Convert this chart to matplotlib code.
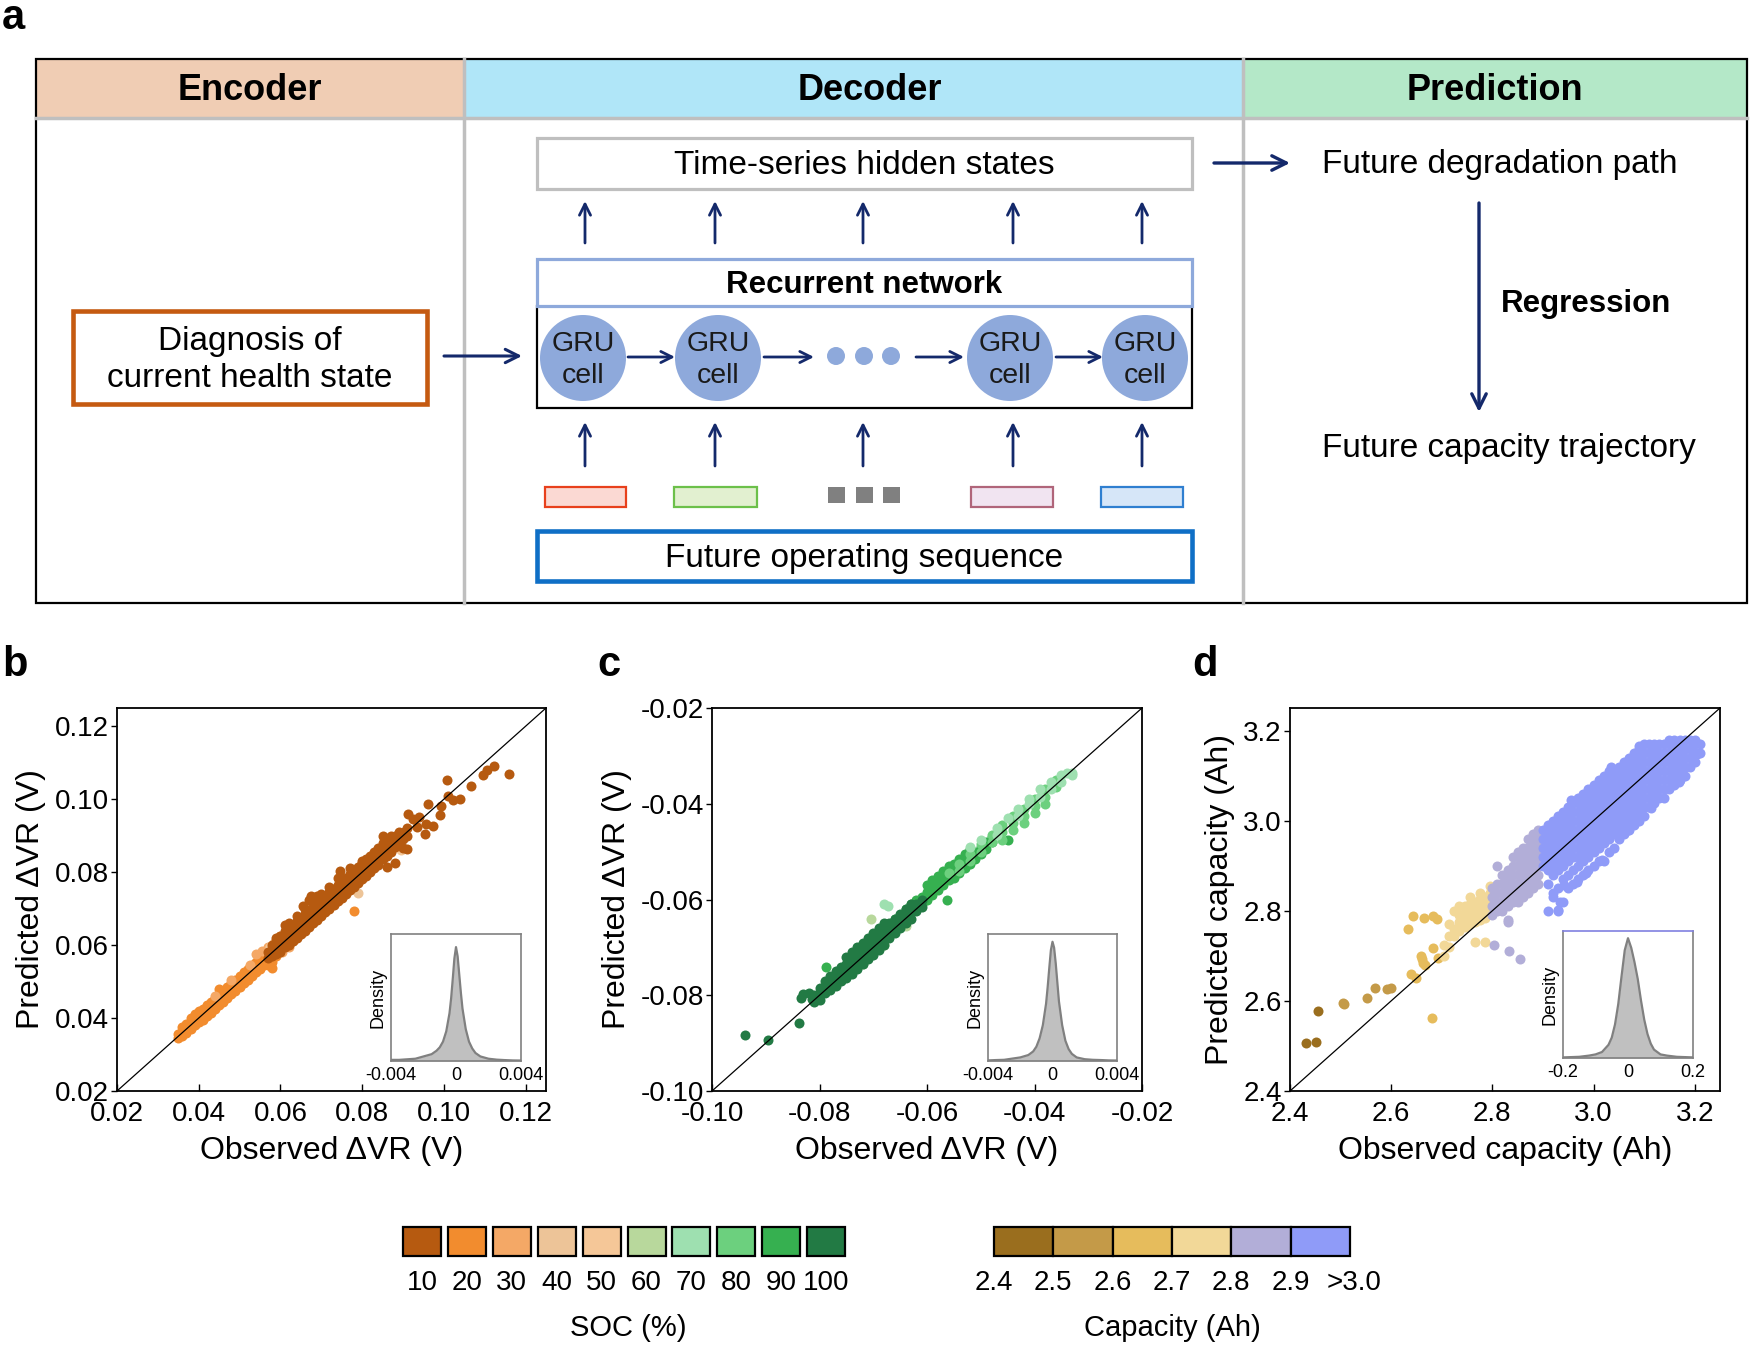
import matplotlib
matplotlib.use('Agg')
import matplotlib.pyplot as plt
from matplotlib.patches import Rectangle, Circle

plt.rcParams['font.family'] = ['Liberation Sans', 'DejaVu Sans']

W, H = 1750, 1346

# ---- colour keys ----
soc_labels = ['10', '20', '30', '40', '50', '60', '70', '80', '90', '100']
soc_colors = ['#B65A10', '#F28C2E', '#F4A866', '#EDC498', '#F5C798',
              '#B8D89C', '#9EE0B0', '#6CD07E', '#36B050', '#227A44']
cap_labels = ['2.4', '2.5', '2.6', '2.7', '2.8', '2.9', '>3.0']
cap_colors = ['#9A6E1E', '#C49A48', '#E6BC5C', '#F2D898', '#B2AED8', '#8F9BF8']

# ---- panel b: SOC 10 (columns of observed x, predicted ys) ----
b10_cols = [0.057, 0.058, 0.059, 0.060, 0.061, 0.062, 0.063, 0.064, 0.065, 0.066,
            0.067, 0.068, 0.069, 0.070, 0.071, 0.072, 0.073, 0.074, 0.075, 0.076,
            0.077, 0.078, 0.079, 0.080, 0.081, 0.082, 0.083, 0.084, 0.085, 0.086,
            0.087, 0.088, 0.089, 0.090, 0.091]
b10_rows = [[0.0565, 0.058], [0.057, 0.0585, 0.060], [0.0575, 0.059, 0.0605, 0.062],
            [0.058, 0.0595, 0.061, 0.0625], [0.0595, 0.061, 0.0625, 0.064],
            [0.060, 0.0615, 0.063, 0.0645, 0.066], [0.061, 0.0625, 0.064, 0.0655],
            [0.062, 0.0635, 0.065, 0.0665, 0.068], [0.063, 0.0645, 0.066, 0.0675],
            [0.064, 0.0655, 0.067, 0.0685, 0.070], [0.065, 0.0665, 0.068, 0.0695, 0.0725],
            [0.066, 0.0675, 0.069, 0.0705, 0.072], [0.067, 0.0685, 0.070, 0.0715, 0.0735],
            [0.068, 0.0695, 0.071, 0.0725, 0.074], [0.069, 0.0705, 0.072, 0.0735],
            [0.070, 0.0715, 0.073, 0.0745, 0.076], [0.071, 0.0725, 0.074, 0.0755],
            [0.072, 0.0735, 0.075, 0.0765, 0.0785], [0.073, 0.0745, 0.076, 0.0775],
            [0.074, 0.0755, 0.077, 0.0785], [0.075, 0.0765, 0.078, 0.0795, 0.081],
            [0.076, 0.0775, 0.079, 0.0805], [0.077, 0.0785, 0.080, 0.0815],
            [0.078, 0.0795, 0.081, 0.0825, 0.083], [0.079, 0.0805, 0.082, 0.0835],
            [0.080, 0.0815, 0.083, 0.0845], [0.081, 0.0825, 0.084, 0.0855],
            [0.082, 0.0835, 0.085, 0.0865], [0.0835, 0.085, 0.0865, 0.088],
            [0.0845, 0.086, 0.0875, 0.089, 0.0815], [0.0855, 0.087, 0.0885, 0.090],
            [0.087, 0.0885, 0.090, 0.0825], [0.088, 0.0895, 0.091], [0.089, 0.0905, 0.0865],
            [0.090, 0.092]]
b10_out_x = [0.116, 0.1122, 0.1095, 0.1105, 0.1066, 0.104, 0.1023, 0.1008, 0.101, 0.0993,
             0.099, 0.0973, 0.0957, 0.0961, 0.094, 0.0955, 0.0912, 0.091, 0.0903, 0.0745,
             0.0674, 0.0656, 0.0611, 0.0855, 0.085, 0.0925, 0.0935]
b10_out_y = [0.107, 0.109, 0.1065, 0.108, 0.1037, 0.100, 0.0997, 0.1053, 0.101, 0.098,
             0.0958, 0.0927, 0.0933, 0.0988, 0.095, 0.0905, 0.0959, 0.0864, 0.0911, 0.0804,
             0.0735, 0.0707, 0.0655, 0.0872, 0.090, 0.0945, 0.0925]

# panel b: SOC 20
b20_cols = [0.035, 0.036, 0.037, 0.038, 0.039, 0.040, 0.041, 0.042, 0.043, 0.044,
            0.045, 0.046, 0.047, 0.048, 0.049, 0.050, 0.051, 0.052, 0.053, 0.054,
            0.055, 0.056, 0.057, 0.058, 0.059]
b20_rows = [[0.0345, 0.0355], [0.035, 0.0365, 0.0375], [0.036, 0.0375, 0.0385],
            [0.037, 0.0385, 0.040], [0.038, 0.0395, 0.041], [0.039, 0.0405, 0.042],
            [0.0395, 0.041, 0.0425], [0.0405, 0.042, 0.0435], [0.0415, 0.043, 0.0445],
            [0.0425, 0.044, 0.0455], [0.0435, 0.045, 0.0465, 0.048], [0.0445, 0.046, 0.0475],
            [0.0455, 0.047, 0.0485], [0.0465, 0.048, 0.0495], [0.0475, 0.049, 0.0505],
            [0.0485, 0.050, 0.0515], [0.0495, 0.051, 0.0525], [0.0505, 0.052, 0.0535],
            [0.0515, 0.053, 0.0545], [0.0525, 0.054, 0.0555], [0.0535, 0.055, 0.0565],
            [0.0545, 0.056, 0.0575], [0.0545, 0.0555, 0.057], [0.0555, 0.0565, 0.0537],
            [0.057, 0.0585]]
b20_out_x = [0.078]
b20_out_y = [0.0693]

# panel b: lighter SOC levels (few points)
b30_x = [0.0525, 0.054, 0.0555, 0.057, 0.0585, 0.060, 0.048, 0.044, 0.062, 0.0605]
b30_y = [0.0545, 0.0575, 0.0585, 0.0595, 0.0605, 0.0625, 0.0505, 0.046, 0.0595, 0.058]
b40_x = [0.0655, 0.079, 0.0775, 0.063]
b40_y = [0.0665, 0.0742, 0.0755, 0.061]
b50_x = [0.0895, 0.0575, 0.0705]
b50_y = [0.0862, 0.0595, 0.0695]

# ---- panel c ----
c100_cols = [-0.081, -0.080, -0.079, -0.078, -0.077, -0.076, -0.075, -0.074, -0.073,
             -0.072, -0.071, -0.070, -0.069, -0.068, -0.067, -0.066, -0.065, -0.064,
             -0.063, -0.062, -0.061]
c100_rows = [[-0.0815, -0.080], [-0.081, -0.0795, -0.0785], [-0.0795, -0.0785, -0.077],
             [-0.079, -0.0775, -0.076], [-0.078, -0.0765, -0.075], [-0.077, -0.0755, -0.074],
             [-0.0765, -0.075, -0.0735, -0.072], [-0.0755, -0.074, -0.0725, -0.071],
             [-0.0745, -0.073, -0.0715, -0.070], [-0.0735, -0.072, -0.0705, -0.069],
             [-0.0725, -0.071, -0.0695, -0.068], [-0.0715, -0.070, -0.0685, -0.067],
             [-0.0705, -0.069, -0.0675, -0.066], [-0.0695, -0.068, -0.0665, -0.065],
             [-0.068, -0.0665, -0.065], [-0.067, -0.0655, -0.064], [-0.066, -0.0645, -0.063],
             [-0.065, -0.0635, -0.062], [-0.064, -0.0625, -0.061], [-0.0625, -0.061],
             [-0.0615, -0.060]]
c100_out_x = [-0.0938, -0.0895, -0.0838, -0.0835, -0.0831, -0.0814, -0.082]
c100_out_y = [-0.0884, -0.0894, -0.0859, -0.0806, -0.0797, -0.0808, -0.0795]

c90_cols = [-0.068, -0.066, -0.064, -0.063, -0.062, -0.061, -0.060, -0.059, -0.058,
            -0.057, -0.056, -0.055, -0.054, -0.053, -0.052, -0.051, -0.050, -0.049, -0.048]
c90_rows = [[-0.0665], [-0.0655, -0.064], [-0.0635, -0.062], [-0.0625, -0.061],
            [-0.0615, -0.060], [-0.061, -0.0595], [-0.060, -0.0585, -0.057],
            [-0.059, -0.0575, -0.056], [-0.058, -0.0565, -0.055], [-0.057, -0.0555, -0.054],
            [-0.056, -0.0545, -0.053], [-0.0555, -0.054, -0.0525], [-0.0545, -0.053, -0.0515],
            [-0.0535, -0.052, -0.0505], [-0.0525, -0.051, -0.0495], [-0.0515, -0.050],
            [-0.0505, -0.049], [-0.0495, -0.048], [-0.048, -0.047]]
c90_out_x = [-0.0787, -0.0563, -0.0449]
c90_out_y = [-0.0742, -0.0601, -0.0476]

c80_cols = [-0.056, -0.054, -0.052, -0.050, -0.048, -0.046, -0.044, -0.042, -0.040,
            -0.038, -0.036]
c80_rows = [[-0.0545], [-0.0525, -0.054], [-0.0505, -0.052], [-0.0485, -0.050],
            [-0.0465, -0.048], [-0.0445, -0.046, -0.0475], [-0.0425, -0.044, -0.0455],
            [-0.041, -0.0425, -0.044], [-0.039, -0.0405, -0.042], [-0.037, -0.0385, -0.040],
            [-0.035, -0.0365]]

c70_cols = [-0.052, -0.050, -0.047, -0.045, -0.043, -0.041, -0.039, -0.037, -0.035,
            -0.034, -0.033]
c70_rows = [[-0.049], [-0.0475], [-0.045, -0.0465], [-0.043], [-0.041, -0.0425],
            [-0.039, -0.040], [-0.037, -0.0385], [-0.0355, -0.037], [-0.034, -0.0355],
            [-0.0335], [-0.0335, -0.034]]
c70_out_x = [-0.068, -0.0673]
c70_out_y = [-0.061, -0.0614]

c60_x = [-0.0705, -0.072, -0.068, -0.064, -0.0515]
c60_y = [-0.064, -0.0735, -0.0695, -0.0655, -0.0505]

# ---- panel d ----
d29_cols = [2.900, 2.910, 2.920, 2.930, 2.940, 2.950, 2.960, 2.970, 2.980, 2.990,
            3.000, 3.010, 3.020, 3.030, 3.040, 3.050, 3.060, 3.070, 3.080, 3.090,
            3.100, 3.110, 3.120, 3.130, 3.140, 3.150, 3.160, 3.170, 3.180, 3.190,
            3.200, 3.210]
d29_rows = [[2.90, 2.92, 2.94, 2.96, 2.98],
            [2.86, 2.89, 2.91, 2.93, 2.95, 2.97, 2.99],
            [2.83, 2.88, 2.90, 2.92, 2.94, 2.96, 2.98, 3.00],
            [2.80, 2.85, 2.89, 2.91, 2.93, 2.95, 2.97, 2.99, 3.01],
            [2.82, 2.87, 2.90, 2.92, 2.94, 2.96, 2.98, 3.00, 3.02],
            [2.85, 2.88, 2.91, 2.93, 2.95, 2.97, 2.99, 3.01, 3.03],
            [2.86, 2.89, 2.92, 2.94, 2.96, 2.98, 3.00, 3.02, 3.04],
            [2.87, 2.90, 2.92, 2.94, 2.96, 2.98, 3.00, 3.02, 3.04, 3.05],
            [2.88, 2.91, 2.93, 2.95, 2.97, 2.99, 3.01, 3.03, 3.05, 3.06],
            [2.89, 2.92, 2.94, 2.96, 2.98, 3.00, 3.02, 3.04, 3.06, 3.07],
            [2.90, 2.93, 2.95, 2.97, 2.99, 3.01, 3.03, 3.05, 3.07, 3.08],
            [2.91, 2.94, 2.96, 2.98, 3.00, 3.02, 3.04, 3.06, 3.08, 3.09],
            [2.91, 2.95, 2.97, 2.99, 3.01, 3.03, 3.05, 3.07, 3.09, 3.10],
            [2.93, 2.96, 2.98, 3.00, 3.02, 3.04, 3.06, 3.08, 3.10, 3.11],
            [2.94, 2.97, 2.99, 3.01, 3.03, 3.05, 3.07, 3.09, 3.11],
            [2.96, 2.98, 3.00, 3.02, 3.04, 3.06, 3.08, 3.10, 3.12],
            [2.97, 2.99, 3.01, 3.03, 3.05, 3.07, 3.09, 3.11, 3.13],
            [2.98, 3.00, 3.02, 3.04, 3.06, 3.08, 3.10, 3.12, 3.14],
            [2.99, 3.01, 3.03, 3.05, 3.07, 3.09, 3.11, 3.13, 3.15],
            [3.00, 3.02, 3.04, 3.06, 3.08, 3.10, 3.12, 3.14, 3.16],
            [3.01, 3.03, 3.05, 3.07, 3.09, 3.11, 3.13, 3.15, 3.17],
            [3.03, 3.05, 3.07, 3.09, 3.11, 3.13, 3.15, 3.17],
            [3.04, 3.06, 3.08, 3.10, 3.12, 3.14, 3.16, 3.17],
            [3.05, 3.07, 3.09, 3.11, 3.13, 3.15, 3.17],
            [3.05, 3.07, 3.09, 3.11, 3.13, 3.15, 3.17],
            [3.07, 3.09, 3.11, 3.13, 3.15, 3.17, 3.18],
            [3.08, 3.10, 3.12, 3.14, 3.16, 3.18],
            [3.09, 3.11, 3.13, 3.15, 3.17, 3.18],
            [3.10, 3.12, 3.14, 3.16, 3.18],
            [3.12, 3.14, 3.16, 3.18],
            [3.13, 3.15, 3.17, 3.18],
            [3.15, 3.17]]
d29_out_x = [2.91, 2.929, 2.934, 2.941, 2.967, 2.985, 3.017, 3.069, 3.113, 3.168,
             3.204, 2.92, 2.955, 3.035, 3.09]
d29_out_y = [2.80, 2.8025, 2.82, 2.857, 2.863, 2.883, 2.913, 2.98, 3.027, 3.085,
             3.149, 2.84, 3.045, 3.118, 3.165]

d28_cols = [2.800, 2.810, 2.820, 2.830, 2.840, 2.850, 2.860, 2.870, 2.880, 2.890]
d28_rows = [[2.79, 2.81, 2.83, 2.85], [2.80, 2.82, 2.84, 2.86, 2.90],
            [2.80, 2.82, 2.84, 2.86, 2.88], [2.78, 2.81, 2.83, 2.85, 2.87, 2.89],
            [2.82, 2.84, 2.86, 2.88, 2.90, 2.92], [2.82, 2.84, 2.86, 2.88, 2.90, 2.92, 2.93],
            [2.83, 2.85, 2.87, 2.89, 2.91, 2.93, 2.94], [2.84, 2.86, 2.88, 2.90, 2.92, 2.94, 2.96],
            [2.85, 2.87, 2.89, 2.91, 2.93, 2.95, 2.97], [2.86, 2.88, 2.90, 2.92, 2.94, 2.96, 2.98]]
d28_out_x = [2.804, 2.8336, 2.855, 2.83]
d28_out_y = [2.724, 2.711, 2.694, 2.775]

d27_cols = [2.705, 2.715, 2.725, 2.735, 2.745, 2.755, 2.765, 2.775, 2.785, 2.795]
d27_rows = [[2.70, 2.725], [2.72, 2.745, 2.77], [2.745, 2.76, 2.80], [2.755, 2.775, 2.79, 2.81],
            [2.765, 2.78, 2.795, 2.81], [2.77, 2.785, 2.80, 2.815, 2.83],
            [2.775, 2.79, 2.805, 2.82, 2.73], [2.78, 2.795, 2.81, 2.825, 2.84],
            [2.785, 2.80, 2.815, 2.83, 2.73], [2.795, 2.81, 2.825, 2.84, 2.855]]

d26_x = [2.634, 2.6436, 2.6655, 2.6392, 2.6487, 2.658, 2.6626, 2.667, 2.6804, 2.683,
         2.683, 2.690, 2.6926, 2.661]
d26_y = [2.7606, 2.7873, 2.785, 2.66, 2.65, 2.70, 2.684, 2.68, 2.561, 2.717,
         2.7873, 2.782, 2.696, 2.693]
d25_x = [2.5046, 2.506, 2.5529, 2.569, 2.5917, 2.599]
d25_y = [2.595, 2.592, 2.6066, 2.628, 2.6257, 2.6287]
d24_x = [2.4315, 2.4505, 2.4549]
d24_y = [2.5067, 2.509, 2.5776]

# ---- error densities for the insets ----
kde_b_x = [-0.004, -0.0035, -0.003, -0.0025, -0.002, -0.0015, -0.0012, -0.001, -0.0008,
           -0.0006, -0.0004, -0.0003, -0.0002, -0.0001, 0.0, 0.0001, 0.0002, 0.0003,
           0.0004, 0.0006, 0.0008, 0.001, 0.0012, 0.0015, 0.002, 0.0025, 0.003, 0.0035, 0.004]
kde_b_y = [0.01, 0.01, 0.015, 0.02, 0.04, 0.06, 0.09, 0.12, 0.17, 0.26, 0.42, 0.55, 0.72,
           0.9, 1.0, 0.92, 0.76, 0.6, 0.46, 0.28, 0.17, 0.11, 0.07, 0.04, 0.02, 0.012,
           0.008, 0.005, 0.004]
kde_c_x = [-0.004, -0.0035, -0.003, -0.0025, -0.002, -0.0015, -0.0012, -0.001, -0.0008,
           -0.0006, -0.0004, -0.0003, -0.0002, -0.0001, 0.0, 0.0001, 0.0002, 0.0003,
           0.0004, 0.0006, 0.0008, 0.001, 0.0012, 0.0015, 0.002, 0.0025, 0.003, 0.0035, 0.004]
kde_c_y = [0.005, 0.008, 0.01, 0.02, 0.03, 0.05, 0.08, 0.12, 0.19, 0.3, 0.48, 0.62, 0.78,
           0.93, 1.0, 0.95, 0.82, 0.66, 0.5, 0.3, 0.17, 0.1, 0.06, 0.03, 0.015, 0.01,
           0.008, 0.005, 0.004]
kde_d_x = [-0.2, -0.15, -0.12, -0.1, -0.08, -0.06, -0.05, -0.04, -0.03, -0.02, -0.01, 0.0,
           0.01, 0.02, 0.03, 0.04, 0.05, 0.06, 0.07, 0.08, 0.1, 0.12, 0.15, 0.2]
kde_d_y = [0.005, 0.01, 0.02, 0.03, 0.05, 0.11, 0.17, 0.28, 0.45, 0.68, 0.9, 1.0, 0.92,
           0.8, 0.66, 0.48, 0.32, 0.2, 0.12, 0.07, 0.03, 0.02, 0.01, 0.005]


def flat(cols, rows):
    xs, ys = [], []
    for x, yy in zip(cols, rows):
        xs += [x] * len(yy)
        ys += yy
    return xs, ys


def frac(x0, y0, x1, y1):
    # pixel box (top-left origin) -> figure fraction
    return [x0 / W, 1 - y1 / H, (x1 - x0) / W, (y1 - y0) / H]


fig = plt.figure(figsize=(W / 100, H / 100), dpi=100)

# ================= panel a (schematic, drawn in pixel units) =================
bg = fig.add_axes([0, 0, 1, 1])
bg.set_xlim(0, W)
bg.set_ylim(H, 0)
bg.axis('off')

navy = '#14296B'
grey = '#BFBFBF'


def box(x0, y0, x1, y1, **kw):
    bg.add_patch(Rectangle((x0, y0), x1 - x0, y1 - y0, **kw))


def arrow(x0, y0, x1, y1, lw=2.2, ms=24):
    bg.annotate('', xy=(x1, y1), xytext=(x0, y0),
                arrowprops=dict(arrowstyle='->', color=navy, lw=lw,
                                mutation_scale=ms, shrinkA=0, shrinkB=0))


# header bands
box(36, 59, 464, 117, facecolor='#F0CDB4', edgecolor='none')
box(464, 59, 1243, 117, facecolor='#B0E6F8', edgecolor='none')
box(1243, 59, 1747, 117, facecolor='#B4E8C8', edgecolor='none')
bg.plot([36, 1747], [118, 118], color=grey, lw=2.5)
bg.plot([464, 464], [59, 603], color=grey, lw=2.5)
bg.plot([1243, 1243], [59, 603], color=grey, lw=2.5)
box(36, 59, 1747, 603, facecolor='none', edgecolor='black', lw=1.6)

for label, cx in [('Encoder', 250), ('Decoder', 870), ('Prediction', 1495)]:
    bg.text(cx, 91, label, fontsize=26, fontweight='bold', ha='center', va='center')

# encoder
box(73, 311, 427, 404, facecolor='white', edgecolor='#C55A11', lw=3.3)
bg.text(250, 360, 'Diagnosis of\ncurrent health state', fontsize=24, ha='center',
        va='center', linespacing=1.25)
arrow(444, 356, 522, 356)

# decoder
box(537, 138, 1192, 189, facecolor='white', edgecolor=grey, lw=2.3)
bg.text(864, 166, 'Time-series hidden states', fontsize=24, ha='center', va='center')
box(537, 306, 1192, 408, facecolor='none', edgecolor='black', lw=1.6)
box(537, 259, 1192, 306, facecolor='white', edgecolor='#8EA9DB', lw=2.3)
bg.text(864, 285, 'Recurrent network', fontsize=22.5, fontweight='bold',
        ha='center', va='center')
box(537, 531, 1192, 581, facecolor='white', edgecolor='#0F6FC6', lw=3.3)
bg.text(864, 559, 'Future operating sequence', fontsize=24, ha='center', va='center')

for cx in [583, 718, 1010, 1145]:
    bg.add_patch(Circle((cx, 358), 43, facecolor='#8EA9DB', edgecolor='none'))
    bg.text(cx, 360, 'GRU\ncell', fontsize=20.5, ha='center', va='center',
            linespacing=1.3, color='#1A1A1A')
for cx in [836, 864, 891]:
    bg.add_patch(Circle((cx, 356), 9, facecolor='#8EA9DB', edgecolor='none'))
for x0, x1 in [(628, 675), (764, 814), (916, 964), (1056, 1103)]:
    arrow(x0, 357, x1, 357, lw=2.0, ms=20)
for cx in [585, 715, 863, 1013, 1142]:
    arrow(cx, 243, cx, 201, lw=2.0, ms=20)
    arrow(cx, 466, cx, 422, lw=2.0, ms=20)

for (x0, x1), ec, fc in zip([(545, 626), (674, 757), (971, 1053), (1101, 1183)],
                            ['#E8401C', '#6CC04A', '#B0657A', '#2F7FD0'],
                            ['#FBD9D3', '#E2F0D0', '#F1E4F1', '#D6E6F8']):
    box(x0, 487, x1, 507, facecolor=fc, edgecolor=ec, lw=1.6)
for x0 in [828, 856, 883]:
    box(x0, 487, x0 + 17, 503, facecolor='#808080', edgecolor='none')

# prediction
arrow(1214, 163, 1290, 163, lw=2.4, ms=26)
bg.text(1322, 165, 'Future degradation path', fontsize=24, ha='left', va='center')
arrow(1479, 203, 1479, 412, lw=2.4, ms=26)
bg.text(1501, 304, 'Regression', fontsize=22.5, fontweight='bold', ha='left', va='center')
bg.text(1322, 448, 'Future capacity trajectory', fontsize=24, ha='left', va='center')

# panel letters
for letter, x, y in [('a', 2, 18), ('b', 2, 665), ('c', 597, 665), ('d', 1192, 665)]:
    bg.text(x, y, letter, fontsize=30, fontweight='bold', ha='left', va='center')

# ================= colour keys =================
for i, (lab, col) in enumerate(zip(soc_labels, soc_colors)):
    x0 = 403 + i * 44.9
    box(x0, 1227, x0 + 38, 1256, facecolor=col, edgecolor='black', lw=1.6)
    bg.text(x0 + 19, 1283, lab, fontsize=20, ha='center', va='center')
bg.text(628, 1328, 'SOC (%)', fontsize=21, ha='center', va='center')

cap_w = (1350 - 994) / len(cap_colors)
for i, col in enumerate(cap_colors):
    x0 = 994 + i * cap_w
    box(x0, 1227, x0 + cap_w, 1256, facecolor=col, edgecolor='black', lw=1.6)
for i, lab in enumerate(cap_labels):
    bg.text(994 + i * cap_w + (4 if i == len(cap_labels) - 1 else 0), 1283, lab,
            fontsize=20, ha='center', va='center')
bg.text(1172, 1328, 'Capacity (Ah)', fontsize=21, ha='center', va='center')


# ================= scatter panels =================
def style_main(ax, lo, hi, ticks, fmt, xlabel, ylabel):
    ax.set_xlim(lo, hi)
    ax.set_ylim(lo, hi)
    ax.plot([lo, hi], [lo, hi], color='black', lw=0.9, zorder=5)
    ax.set_xticks(ticks)
    ax.set_yticks(ticks)
    ax.set_xticklabels([fmt(t) for t in ticks])
    ax.set_yticklabels([fmt(t) for t in ticks])
    ax.tick_params(axis='x', direction='in', length=5, width=1, labelsize=20, pad=7)
    ax.tick_params(axis='y', direction='out', length=4, width=1, labelsize=20, pad=2)
    for s in ax.spines.values():
        s.set_linewidth(1.3)
    ax.set_xlabel(xlabel, fontsize=23, labelpad=7)
    ax.set_ylabel(ylabel, fontsize=23, labelpad=6)


def inset(pos, kx, ky, ticks, labels, top):
    ai = fig.add_axes(frac(*pos))
    ai.fill_between(kx, ky, 0, color='#C0C0C0', lw=0)
    ai.plot(kx, ky, color='#808080', lw=1.6)
    ai.set_xlim(ticks[0], ticks[-1])
    ai.set_ylim(0, top)
    ai.set_xticks(ticks)
    ai.set_xticklabels(labels)
    ai.set_yticks([])
    ai.tick_params(axis='x', length=0, labelsize=13, pad=4)
    for s in ai.spines.values():
        s.set_color('#808080')
        s.set_linewidth(1.2)
    ai.set_ylabel('Density', fontsize=13, labelpad=3)
    return ai


S = 52

# panel b
ax_b = fig.add_axes(frac(117, 708, 546, 1091))
x, y = flat(b20_cols, b20_rows)
ax_b.scatter(x + b20_out_x, y + b20_out_y, s=S, color=soc_colors[1], lw=0)
ax_b.scatter(b30_x, b30_y, s=S, color=soc_colors[2], lw=0)
ax_b.scatter(b40_x, b40_y, s=S, color=soc_colors[3], lw=0)
ax_b.scatter(b50_x, b50_y, s=S, color=soc_colors[4], lw=0)
x, y = flat(b10_cols, b10_rows)
ax_b.scatter(x + b10_out_x, y + b10_out_y, s=S, color=soc_colors[0], lw=0)
style_main(ax_b, 0.02, 0.125, [0.02, 0.04, 0.06, 0.08, 0.10, 0.12],
           lambda t: f'{t:.2f}', 'Observed ΔVR (V)', 'Predicted ΔVR (V)')
inset((391, 934, 521, 1061), kde_b_x, kde_b_y, [-0.004, 0, 0.004],
      ['-0.004', '0', '0.004'], 1.115)

# panel c
ax_c = fig.add_axes(frac(712, 708, 1142, 1091))
ax_c.scatter(c60_x, c60_y, s=S, color=soc_colors[5], lw=0)
x, y = flat(c90_cols, c90_rows)
ax_c.scatter(x + c90_out_x, y + c90_out_y, s=S, color=soc_colors[8], lw=0)
x, y = flat(c80_cols, c80_rows)
ax_c.scatter(x, y, s=S, color=soc_colors[7], lw=0)
x, y = flat(c70_cols, c70_rows)
ax_c.scatter(x + c70_out_x, y + c70_out_y, s=S, color=soc_colors[6], lw=0)
x, y = flat(c100_cols, c100_rows)
ax_c.scatter(x + c100_out_x, y + c100_out_y, s=S, color=soc_colors[9], lw=0)
style_main(ax_c, -0.10, -0.02, [-0.10, -0.08, -0.06, -0.04, -0.02],
           lambda t: f'{t:.2f}', 'Observed ΔVR (V)', 'Predicted ΔVR (V)')
inset((988, 934, 1117, 1061), kde_c_x, kde_c_y, [-0.004, 0, 0.004],
      ['-0.004', '0', '0.004'], 1.065)

# panel d
ax_d = fig.add_axes(frac(1290, 708, 1720, 1091))
ax_d.scatter(d24_x, d24_y, s=S, color=cap_colors[0], lw=0)
ax_d.scatter(d25_x, d25_y, s=S, color=cap_colors[1], lw=0)
ax_d.scatter(d26_x, d26_y, s=S, color=cap_colors[2], lw=0)
x, y = flat(d27_cols, d27_rows)
ax_d.scatter(x, y, s=S, color=cap_colors[3], lw=0)
x, y = flat(d28_cols, d28_rows)
ax_d.scatter(x + d28_out_x, y + d28_out_y, s=S, color=cap_colors[4], lw=0)
x, y = flat(d29_cols, d29_rows)
ax_d.scatter(x + d29_out_x, y + d29_out_y, s=S, color=cap_colors[5], lw=0)
style_main(ax_d, 2.4, 3.25, [2.4, 2.6, 2.8, 3.0, 3.2],
           lambda t: f'{t:.1f}', 'Observed capacity (Ah)', 'Predicted capacity (Ah)')
ai_d = inset((1563, 931, 1693, 1058), kde_d_x, kde_d_y, [-0.2, 0, 0.2],
             ['-0.2', '0', '0.2'], 1.06)
ai_d.spines['top'].set_color('#8080E0')

fig.savefig('out.png', dpi=100)
